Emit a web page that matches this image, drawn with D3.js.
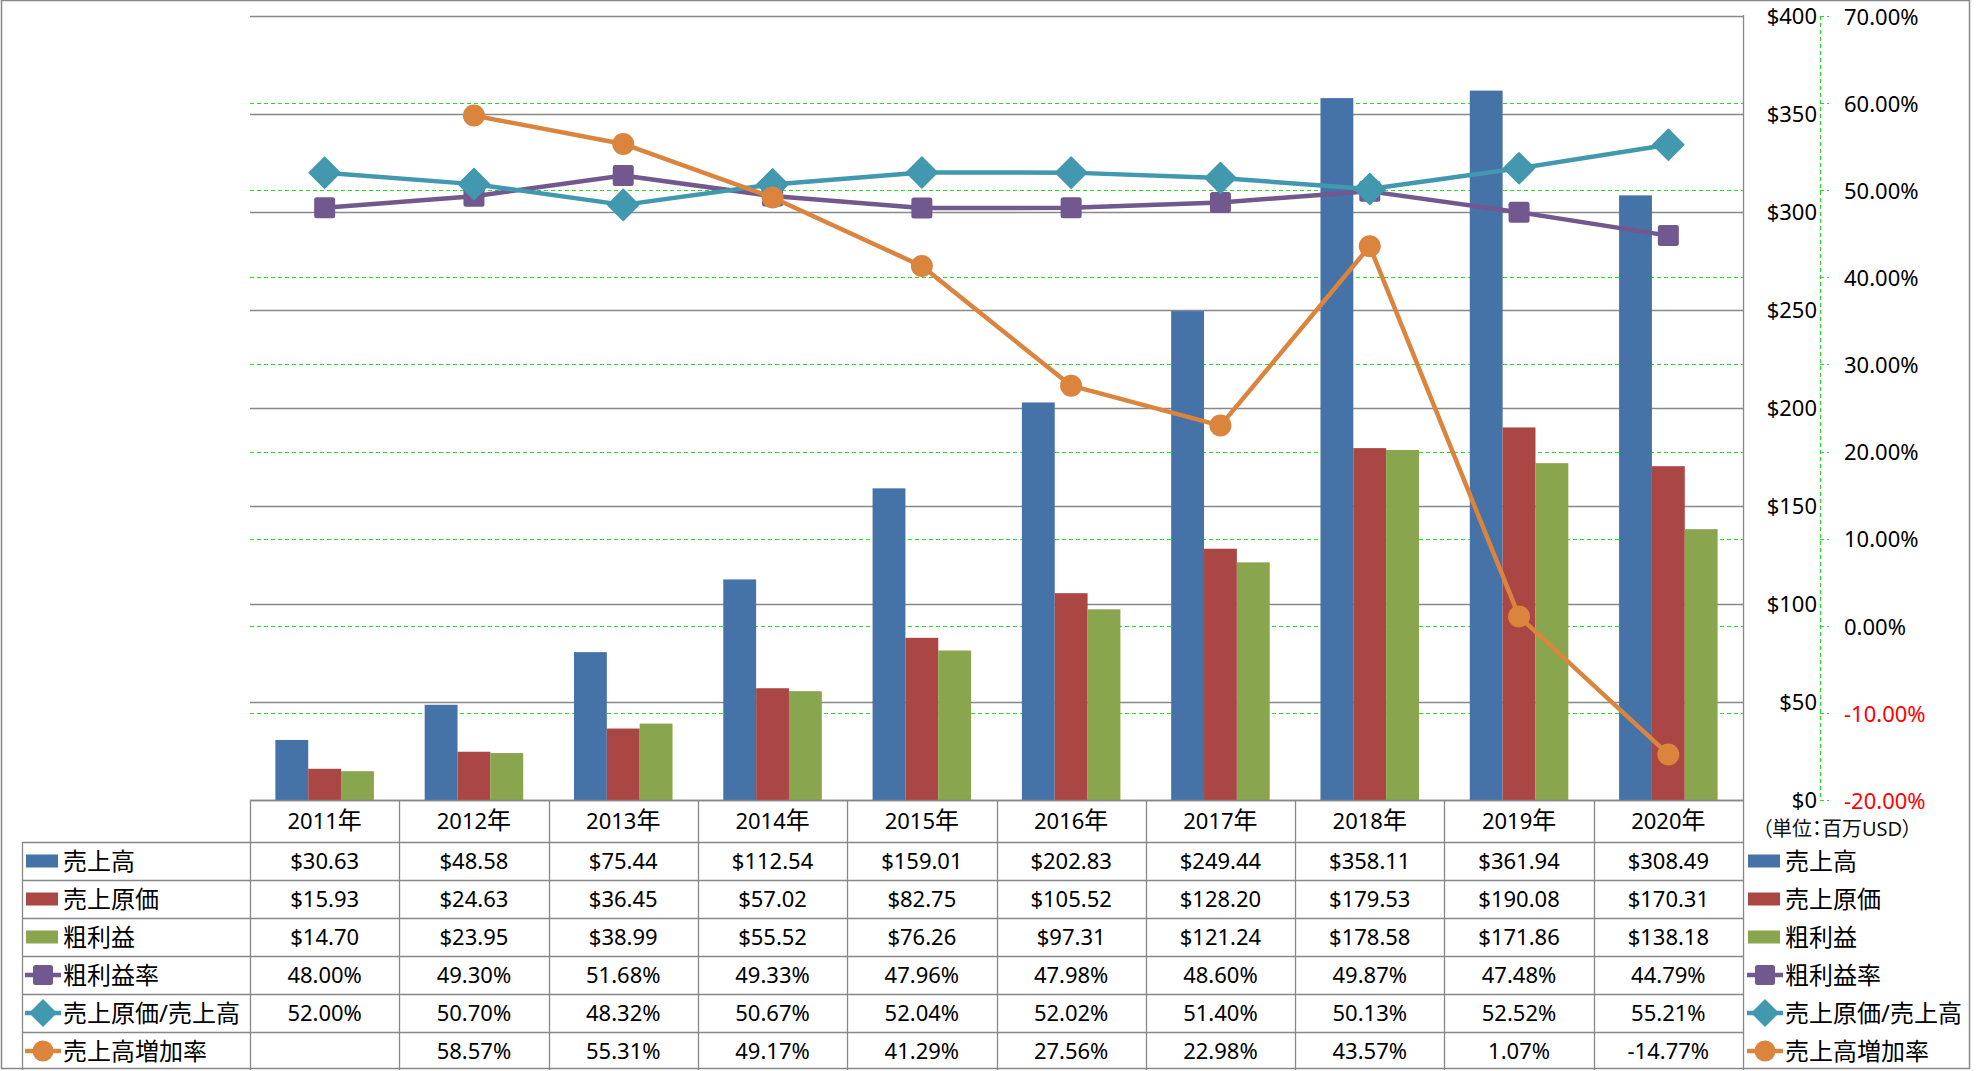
<!DOCTYPE html>
<html><head><meta charset="utf-8">
<script src="https://cdn.jsdelivr.net/npm/d3@7"></script>
<style>
body{margin:0;background:#fff}
svg{display:block}
text{font-family:"Noto Sans","Noto Sans CJK JP",sans-serif;fill:#000}
</style>
</head><body>
<svg id="c" width="1977" height="1071"></svg>
<script>
// ---- data ----
const years = ["2011年","2012年","2013年","2014年","2015年","2016年","2017年","2018年","2019年","2020年"];
const sales = [30.63,48.58,75.44,112.54,159.01,202.83,249.44,358.11,361.94,308.49];
const cost  = [15.93,24.63,36.45,57.02,82.75,105.52,128.20,179.53,190.08,170.31];
const gross = [14.70,23.95,38.99,55.52,76.26,97.31,121.24,178.58,171.86,138.18];
const grossMargin = [48.00,49.30,51.68,49.33,47.96,47.98,48.60,49.87,47.48,44.79];
const costRatio   = [52.00,50.70,48.32,50.67,52.04,52.02,51.40,50.13,52.52,55.21];
const salesGrowth = [null,58.57,55.31,49.17,41.29,27.56,22.98,43.57,1.07,-14.77];
const leftTicks  = [0,50,100,150,200,250,300,350,400];
const rightTicks = [-20,-10,0,10,20,30,40,50,60,70];
const barNames  = ["売上高","売上原価","粗利益"];
const lineNames = ["粗利益率","売上原価/売上高","売上高増加率"];
const unitLabel = "（単位：百万USD）";

const barColors  = ["#4572A7","#AA4643","#89A54E"];
const lineColors = ["#71588F","#4198AF","#DB843D"];
const markers    = ["square","diamond","circle"];

const FS = 22;          // latin text size
const CJK = 24;         // legend CJK text size
const capOff = 7.8;     // baseline offset to centre digits

const svg = d3.select("#c");
const L = 250, R = 1743, T = 16, B = 800;
const x = d3.scaleBand().domain(years).range([L, R]);
const yL = d3.scaleLinear().domain([0,400]).range([B, T]);
const yR = d3.scaleLinear().domain([-20,70]).range([B, T]);
const inner = d3.scaleBand().domain(barNames)
  .range([x.bandwidth()*0.17, x.bandwidth()*0.83]);

// outer frame
svg.append("rect").attr("x",1.5).attr("y",0.5).attr("width",1968).attr("height",1068)
  .attr("fill","none").attr("stroke","#888").attr("stroke-width",1.5);

// percent gridlines (green dashed)
svg.append("g").selectAll("line").data(rightTicks).join("line")
  .attr("x1",L).attr("x2",R)
  .attr("y1",d=>Math.round(yR(d))+0.5).attr("y2",d=>Math.round(yR(d))+0.5)
  .attr("stroke","#22dd22").attr("stroke-width",1.2).attr("stroke-dasharray","4,3");

// dollar gridlines (grey)
svg.append("g").selectAll("line").data(leftTicks).join("line")
  .attr("x1",L).attr("x2",R)
  .attr("y1",d=>Math.round(yL(d))+0.5).attr("y2",d=>Math.round(yL(d))+0.5)
  .attr("stroke","#888").attr("stroke-width",1.3);

// bars
const bars = [sales,cost,gross];
const gb = svg.append("g");
bars.forEach((arr,si)=>{
  gb.append("g").selectAll("rect").data(arr).join("rect")
    .attr("x",(d,i)=>x(years[i])+inner(barNames[si]))
    .attr("width",inner.bandwidth())
    .attr("y",d=>yL(d)).attr("height",d=>B-yL(d))
    .attr("fill",barColors[si]);
});

// right vertical border of plot/table
svg.append("line").attr("x1",R+0.5).attr("x2",R+0.5).attr("y1",T-1).attr("y2",1070)
  .attr("stroke","#888").attr("stroke-width",1.3);

// marker function
function marker(g, type, cx, cy, color){
  if(type==="square"){
    g.append("rect").attr("x",cx-10.5).attr("y",cy-10.5).attr("width",21).attr("height",21)
      .attr("rx",2.5).attr("fill",color);
  } else if(type==="diamond"){
    const r=15.5;
    g.append("path").attr("d",`M${cx},${cy-r}L${cx+r},${cy}L${cx},${cy+r}L${cx-r},${cy}Z`)
      .attr("fill",color).attr("stroke",color).attr("stroke-linejoin","round").attr("stroke-width",1.5);
  } else {
    g.append("circle").attr("cx",cx).attr("cy",cy).attr("r",11).attr("fill",color);
  }
}

// lines
const lineData = [grossMargin,costRatio,salesGrowth];
const cx = i => x(years[i]) + x.bandwidth()/2;
lineData.forEach((arr,si)=>{
  const g = svg.append("g");
  const line = d3.line().defined(d=>d!==null).x((d,i)=>cx(i)).y(d=>yR(d));
  g.append("path").datum(arr).attr("d",line).attr("fill","none")
    .attr("stroke",lineColors[si]).attr("stroke-width",4.5).attr("stroke-linejoin","round");
  arr.forEach((d,i)=>{ if(d!==null) marker(g, markers[si], cx(i), yR(d), lineColors[si]); });
});

// right axes
const axG = svg.append("g");
leftTicks.forEach(t=>{
  axG.append("text").attr("x",1817).attr("y",yL(t)+capOff).attr("text-anchor","end")
    .attr("font-size",FS).text("$"+d3.format("d")(t));
});
axG.append("line").attr("x1",1820.5).attr("x2",1820.5).attr("y1",T).attr("y2",B+0.5)
  .attr("stroke","#22dd22").attr("stroke-width",1.2).attr("stroke-dasharray","4,3");
rightTicks.forEach(t=>{
  axG.append("line").attr("x1",1820).attr("x2",1829).attr("y1",Math.round(yR(t))+0.5).attr("y2",Math.round(yR(t))+0.5)
    .attr("stroke","#22dd22").attr("stroke-width",1.2).attr("stroke-dasharray","4,3");
  axG.append("text").attr("x",1844).attr("y",yR(t)+capOff+1)
    .attr("font-size",FS).style("fill",t<0?"#ff0000":"#000")
    .text(t.toFixed(2)+"%");
});

// data table
const rowTop = [842,880,918,956,994,1032];
const rowH = 38;
const tg = svg.append("g");
const gridStroke = "#888";
tg.append("line").attr("x1",L).attr("x2",R).attr("y1",B+0.5).attr("y2",B+0.5).attr("stroke",gridStroke).attr("stroke-width",1.3);
years.forEach((yr,i)=>{
  const t = tg.append("text").attr("x",cx(i)).attr("y",821+capOff).attr("text-anchor","middle")
    .attr("font-size",FS);
  t.append("tspan").text(yr.slice(0,-1));
  t.append("tspan").attr("font-size",CJK).text(yr.slice(-1));
});
d3.range(years.length).forEach(i=>{
  const xx = Math.round(x(years[i]))+0.5;
  tg.append("line").attr("x1",xx).attr("x2",xx).attr("y1",B).attr("y2",1070).attr("stroke",gridStroke).attr("stroke-width",1.3);
});
tg.append("line").attr("x1",22.5).attr("x2",22.5).attr("y1",842).attr("y2",1070).attr("stroke",gridStroke).attr("stroke-width",1.3);
rowTop.forEach(y0=>{
  tg.append("line").attr("x1",22).attr("x2",R).attr("y1",y0+0.5).attr("y2",y0+0.5).attr("stroke",gridStroke).attr("stroke-width",1.3);
});
const allSeries = [sales,cost,gross,grossMargin,costRatio,salesGrowth];
const allNames = barNames.concat(lineNames);
const fmtD = d=>"$"+d.toFixed(2);
const fmtP = d=>d.toFixed(2)+"%";
allSeries.forEach((arr,ri)=>{
  const yc = rowTop[ri]+rowH/2;
  arr.forEach((d,i)=>{
    if(d===null) return;
    tg.append("text").attr("x",cx(i)).attr("y",yc+capOff).attr("text-anchor","middle")
      .attr("font-size",FS)
      .text(ri<3?fmtD(d):fmtP(d));
  });
  [[26,63],[1748,1785]].forEach(([kx,tx])=>{
    if(ri<3){
      tg.append("rect").attr("x",kx).attr("y",yc-6.5).attr("width",32).attr("height",13).attr("fill",barColors[ri]);
    } else {
      const c = lineColors[ri-3];
      tg.append("line").attr("x1",kx-1).attr("x2",kx+35).attr("y1",yc).attr("y2",yc)
        .attr("stroke",c).attr("stroke-width",4.5);
      if(markers[ri-3]==="square"){
        tg.append("rect").attr("x",kx+7).attr("y",yc-10).attr("width",20).attr("height",20).attr("rx",2.5).attr("fill",c);
      } else if(markers[ri-3]==="diamond"){
        const r=14, mx=kx+17;
        tg.append("path").attr("d",`M${mx},${yc-r}L${mx+r},${yc}L${mx},${yc+r}L${mx-r},${yc}Z`).attr("fill",c);
      } else {
        tg.append("circle").attr("cx",kx+17).attr("cy",yc).attr("r",10.5).attr("fill",c);
      }
    }
    tg.append("text").attr("x",tx).attr("y",yc+9).attr("font-size",CJK).text(allNames[ri]);
  });
});
// unit label
svg.append("text").attr("x",1762).attr("y",836).attr("font-size",20)
  .style("font-feature-settings","'palt'").style("fill","#111").text(unitLabel);
</script>
</body></html>
